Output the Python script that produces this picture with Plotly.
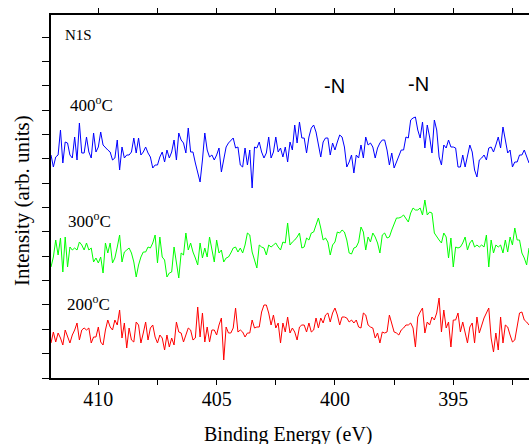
import numpy as np
import plotly.graph_objects as go

# Binding-energy grid of the N 1s scans (eV), 0.1 eV step
E_START, E_STOP, E_STEP = 412.0, 391.8, 0.1
energy = np.round(np.arange(E_START, E_STOP - E_STEP / 2, -E_STEP), 1)

# Stacked N 1s intensities (arb. units, offsets included)
n1s_400C = [
    223, 211, 221, 223, 248, 215, 236, 235, 223, 220,
    241, 218, 255, 225, 225, 241, 226, 220, 245, 226,
    231, 246, 233, 230, 228, 226, 218, 220, 238, 208,
    231, 220, 223, 223, 226, 240, 225, 240, 223, 226,
    231, 225, 221, 210, 213, 213, 221, 226, 216, 228,
    220, 226, 238, 218, 245, 238, 235, 225, 250, 226,
    226, 215, 205, 196, 218, 245, 228, 221, 223, 218,
    223, 230, 206, 218, 231, 235, 238, 240, 230, 231,
    213, 211, 230, 213, 228, 190, 231, 230, 236, 226,
    220, 225, 241, 220, 226, 241, 226, 230, 221, 231,
    216,
    236, 228, 253, 235, 256, 240, 240, 225, 241, 250,
    253, 246, 235, 221, 236, 240, 240, 223, 235, 228,
    236, 243, 241, 231, 211, 216, 223, 205, 223, 220,
    233, 220, 241, 233, 235, 231, 220, 230, 235, 238,
    238, 228, 213, 225, 210, 216, 221, 228, 228, 241,
    240, 258, 260, 261, 248, 240, 256, 230, 253, 241,
    225, 258, 248, 221, 213, 233, 230, 238, 231, 231,
    230, 211, 211, 223, 211, 223, 233, 226, 208, 201,
    218, 220, 223, 218, 230, 231, 226, 233, 241, 230,
    251, 238, 225, 228, 211, 216, 216, 223, 223, 228,
    221, 215,
]

n1s_300C = [
    111, 121, 138, 123, 140, 106, 141, 111, 131, 128,
    130, 128, 136, 133, 128, 135, 128, 130, 116, 120,
    115, 121, 105, 135, 125, 135, 115, 120, 131, 143,
    116, 126, 128, 130, 125, 116, 101, 113, 121, 126,
    126, 131, 130, 135, 143, 115, 141, 121, 118, 101,
    105, 106, 131, 115, 100, 125, 123, 145, 128, 135,
    126, 120, 113, 135, 120, 130, 121, 141, 130, 116,
    138, 125, 128, 116, 120, 121, 125, 130, 131, 126,
    130, 125, 133, 145, 143, 126, 118, 110, 133, 131,
    130, 123, 133, 131, 133, 135, 131, 128, 136, 135,
    155,
    133, 136, 138, 141, 145, 130, 131, 140, 138, 145,
    146, 153, 160, 150, 138, 140, 136, 123, 133, 136,
    146, 145, 148, 146, 138, 125, 124, 130, 131, 136,
    151, 146, 128, 141, 136, 145, 141, 135, 125, 143,
    145, 140, 141, 148, 155, 160, 160, 161, 163, 160,
    156, 165, 170, 168, 168, 170, 163, 178, 163, 166,
    165, 145, 141, 138, 135, 145, 141, 120, 140, 111,
    131, 130, 131, 135, 141, 128, 135, 138, 131, 133,
    131, 133, 131, 143, 111, 138, 125, 133, 131, 133,
    125, 138, 126, 141, 133, 150, 138, 138, 125, 120,
    113, 130,
]

n1s_200C = [
    35, 46, 36, 45, 40, 33, 48, 41, 35, 43,
    48, 55, 38, 48, 50, 48, 50, 35, 41, 41,
    51, 36, 33, 48, 58, 51, 48, 58, 53, 68,
    40, 55, 30, 50, 38, 36, 56, 53, 35, 45,
    56, 38, 50, 53, 41, 35, 43, 40, 28, 43,
    31, 40, 33, 56, 46, 45, 36, 43, 50, 48,
    38, 40, 71, 41, 65, 36, 51, 36, 48, 48,
    43, 53, 60, 18, 51, 45, 45, 50, 70, 46,
    48, 46, 41, 45, 45, 58, 50, 51, 51, 66,
    73, 73, 65, 53, 63, 50, 55, 35, 55, 46,
    61,
    45, 50, 46, 38, 51, 53, 53, 46, 55, 46,
    48, 60, 50, 60, 55, 63, 65, 56, 65, 70,
    63, 53, 61, 61, 60, 56, 58, 55, 58, 51,
    50, 65, 63, 53, 51, 50, 40, 45, 35, 46,
    45, 46, 63, 55, 46, 45, 43, 48, 50, 53,
    53, 55, 50, 31, 61, 66, 70, 45, 56, 53,
    61, 58, 65, 80, 46, 68, 50, 56, 31, 58,
    58, 65, 46, 56, 45, 35, 51, 55, 35, 61,
    45, 53, 60, 65, 70, 40, 26, 45, 28, 61,
    35, 53, 51, 43, 36, 38, 51, 65, 66, 58,
    56, 53,
]

x_ticks = [410, 405, 400, 395]

# Curve labels: (text, energy, intensity)
temp_labels = [
    ("400<sup>o</sup>C", 411.28, 274),
    ("300<sup>o</sup>C", 411.37, 158),
    ("200<sup>o</sup>C", 411.41, 75),
]
peak_labels = [("-N", 400.0, 292), ("-N", 396.45, 294)]

SERIF = "Liberation Serif, Times New Roman, serif"
SANS = "Liberation Sans, Arial, sans-serif"

fig = go.Figure()
for vals, color in [(n1s_400C, "#0000FF"), (n1s_300C, "#00FF00"), (n1s_200C, "#FF0000")]:
    fig.add_trace(go.Scatter(x=energy, y=vals, mode="lines",
                             line=dict(color=color, width=1), showlegend=False))

annotations = [
    dict(text="N1S", x=411.49, y=343, xref="x", yref="y", xanchor="left",
         yanchor="middle", showarrow=False, font=dict(family=SERIF, size=15, color="black")),
]
for txt, ex, iy in temp_labels:
    annotations.append(dict(text=txt, x=ex, y=iy, xref="x", yref="y", xanchor="left",
                            yanchor="middle", showarrow=False,
                            font=dict(family=SERIF, size=17, color="black")))
for txt, ex, iy in peak_labels:
    annotations.append(dict(text=txt, x=ex, y=iy, xref="x", yref="y", xanchor="center",
                            yanchor="middle", showarrow=False,
                            font=dict(family=SANS, size=20, color="black")))
annotations.append(dict(text="Intensity (arb. units)", x=-0.0607, y=0.49, xref="paper",
                        yref="paper", textangle=-90, showarrow=False,
                        xanchor="center", yanchor="middle",
                        font=dict(family=SERIF, size=21, color="black")))
annotations.append(dict(text="Binding Energy (eV)", x=0.496, y=-0.157, xref="paper",
                        yref="paper", showarrow=False, xanchor="center", yanchor="middle",
                        font=dict(family=SERIF, size=20, color="black")))

fig.update_layout(
    width=529, height=444,
    margin=dict(l=51, r=0, t=15, b=66),
    paper_bgcolor="white", plot_bgcolor="white",
    annotations=annotations,
    xaxis=dict(range=[412.0, 391.8], tickvals=x_ticks, ticks="outside", ticklen=5,
               tickwidth=1, tickcolor="black", showline=True, linecolor="black",
               linewidth=1.5, mirror="allticks", showgrid=False, zeroline=False,
               ticklabelstandoff=-3,
               minor=dict(dtick=2.5, tick0=410, ticks="outside", ticklen=5,
                          tickcolor="black", showgrid=False),
               tickfont=dict(family=SERIF, size=20, color="black")),
    yaxis=dict(range=[0, 363], tick0=0, dtick=24.35, ticks="outside", ticklen=7,
               tickwidth=1, tickcolor="black", showticklabels=False, showline=True,
               linecolor="black", linewidth=1.5, showgrid=False, zeroline=False),
)

fig.write_html("out.html")
